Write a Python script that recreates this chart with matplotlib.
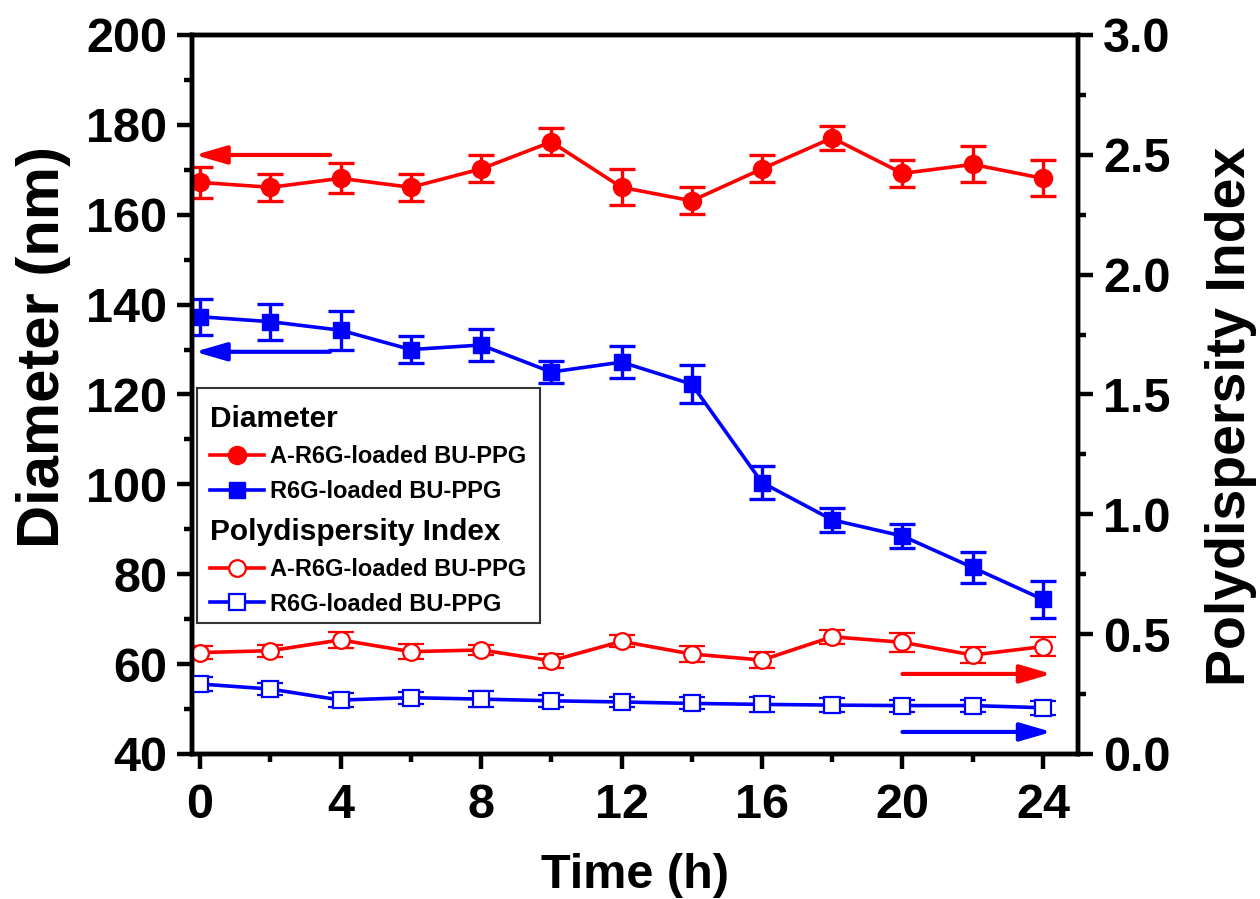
import matplotlib

matplotlib.use("Agg")
import matplotlib.pyplot as plt
from matplotlib.patches import Rectangle
from matplotlib.ticker import MultipleLocator

plt.rcParams["font.family"] = ["Liberation Sans", "DejaVu Sans"]
plt.rcParams["font.weight"] = "bold"

# %% data
time_h = [0, 2, 4, 6, 8, 10, 12, 14, 16, 18, 20, 22, 24]

dia_a = [167.2, 166.1, 168.1, 166.1, 170.2, 176.2, 166.1, 163.1, 170.2, 177.1, 169.2, 171.2, 168.1]
dia_a_err = [3.5, 3.0, 3.3, 3.0, 3.0, 3.0, 4.0, 3.0, 3.0, 2.6, 3.0, 4.0, 4.0]

dia_r = [137.3, 136.2, 134.3, 130.0, 131.0, 125.0, 127.2, 122.3, 100.4, 92.1, 88.5, 81.5, 74.4]
dia_r_err = [4.0, 4.0, 4.3, 3.0, 3.5, 2.5, 3.5, 4.3, 3.6, 2.6, 2.7, 3.5, 4.2]

pdi_a = [0.423, 0.431, 0.476, 0.427, 0.434, 0.389, 0.470, 0.417, 0.392, 0.489, 0.466, 0.413, 0.448]
pdi_a_err = [0.028, 0.025, 0.035, 0.030, 0.020, 0.030, 0.025, 0.035, 0.035, 0.028, 0.040, 0.035, 0.040]

pdi_r = [0.292, 0.271, 0.225, 0.235, 0.229, 0.222, 0.217, 0.211, 0.207, 0.204, 0.202, 0.202, 0.193]
pdi_r_err = [0.028, 0.025, 0.030, 0.025, 0.035, 0.025, 0.020, 0.025, 0.030, 0.030, 0.025, 0.025, 0.030]

label_a = "A-R6G-loaded BU-PPG"
label_r = "R6G-loaded BU-PPG"

# arrows: (tail x, head x, y) telling which axis each series belongs to
arrow_dia_a = (3.7, -0.15, 173.3)
arrow_dia_r = (3.7, -0.15, 129.5)
arrow_pdi_a = (20.0, 24.25, 0.334)
arrow_pdi_r = (20.0, 24.25, 0.092)

RED = "#ff0000"
BLUE = "#0000ff"

# %%
fig = plt.figure(figsize=(12.6, 8.99), dpi=100)
ax = fig.add_axes([0.1524, 0.1613, 0.7032, 0.7998])
ax2 = ax.twinx()

common = dict(lw=2.6, elinewidth=2.4, capsize=9.5, capthick=2.4)

eb1 = ax.errorbar(time_h, dia_a, yerr=dia_a_err, color=RED, marker="o", ms=13, **common)
eb2 = ax.errorbar(time_h, dia_r, yerr=dia_r_err, color=BLUE, marker="s", ms=11, **common)
eb3 = ax2.errorbar(time_h, pdi_a, yerr=pdi_a_err, color=RED, marker="o", ms=12,
                   mfc="white", mec=RED, mew=1.6, **common)
eb4 = ax2.errorbar(time_h, pdi_r, yerr=pdi_r_err, color=BLUE, marker="s", ms=11,
                   mfc="white", mec=BLUE, mew=1.6, **common)

for a, (x0, x1, y), c in [(ax, arrow_dia_a, RED), (ax, arrow_dia_r, BLUE),
                          (ax2, arrow_pdi_a, RED), (ax2, arrow_pdi_r, BLUE)]:
    a.annotate("", xy=(x1, y), xytext=(x0, y),
               arrowprops=dict(arrowstyle="-|>,head_length=1.9,head_width=0.55",
                               color=c, lw=3.0, shrinkA=0, shrinkB=0))

ax.set_xlim(-0.23, 25.0)
ax.set_ylim(40, 200)
ax2.set_ylim(0, 3.0)

ax.xaxis.set_major_locator(MultipleLocator(4))
ax.xaxis.set_minor_locator(MultipleLocator(2))
ax.yaxis.set_major_locator(MultipleLocator(20))
ax.yaxis.set_minor_locator(MultipleLocator(10))
ax2.yaxis.set_major_locator(MultipleLocator(0.5))
ax2.yaxis.set_minor_locator(MultipleLocator(0.25))
ax2.yaxis.set_major_formatter(lambda v, p: f"{v:.1f}")

for a in (ax, ax2):
    for s in a.spines.values():
        s.set_linewidth(3.2)
    a.tick_params(which="major", direction="out", length=11, width=3.2, labelsize=35)
    a.tick_params(which="minor", direction="out", length=6, width=3.2)
ax.tick_params(axis="x", pad=10)
ax.tick_params(axis="y", pad=7)
ax2.tick_params(axis="y", pad=7)

ax.set_xlabel("Time (h)", fontsize=35, fontweight="bold", labelpad=18)
ax.set_ylabel("Diameter (nm)", fontsize=43, fontweight="bold", labelpad=11)
ax2.set_ylabel("Polydispersity Index", fontsize=40, fontweight="bold", labelpad=25)
ax.yaxis.label.set_y(0.566)
ax2.yaxis.label.set_y(0.47)

# %% legend: two grouped legends inside one frame
frame = Rectangle((0.0056, 0.182), 0.387, 0.327, transform=ax2.transAxes,
                  facecolor="white", edgecolor="#333333", lw=1.5, zorder=4)
ax2.add_patch(frame)

leg_kw = dict(loc="upper left", frameon=False, prop=dict(weight="bold", size=17),
              title_fontproperties=dict(weight="bold", size=21.5), alignment="left",
              handlelength=2.3, handletextpad=0.25, labelspacing=0.5,
              borderpad=0, borderaxespad=0, numpoints=1)
leg1 = ax2.legend([eb1[0], eb2[0]], [label_a, label_r], title="Diameter",
                  bbox_to_anchor=(0.02, 0.485), **leg_kw)
leg1.set_zorder(5)
ax2.add_artist(leg1)
leg2 = ax2.legend([eb3[0], eb4[0]], [label_a, label_r], title="Polydispersity Index",
                  bbox_to_anchor=(0.02, 0.328), **leg_kw)
leg2.set_zorder(5)

fig.savefig("out.png", dpi=100)
